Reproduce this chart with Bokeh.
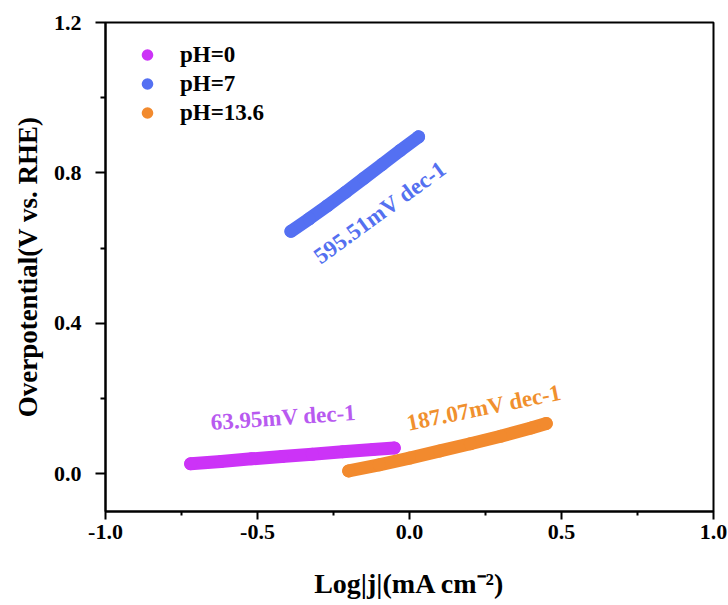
from bokeh.plotting import figure
from bokeh.models import Range1d, FixedTicker, NumeralTickFormatter, Legend, LegendItem, Label
from bokeh.embed import file_html
from bokeh.resources import INLINE

# ---- data ----
ph0_x = [-0.72, -0.62, -0.52, -0.42, -0.32, -0.22, -0.12, -0.05]
ph0_y = [0.027, 0.033, 0.040, 0.046, 0.052, 0.059, 0.065, 0.069]

ph7_x = [-0.39, -0.33, -0.27, -0.21, -0.15, -0.09, -0.03, 0.03]
ph7_y = [0.645, 0.678, 0.713, 0.749, 0.786, 0.823, 0.860, 0.896]

ph136_x = [-0.20, -0.10, 0.00, 0.10, 0.20, 0.30, 0.40, 0.45]
ph136_y = [0.008, 0.024, 0.042, 0.061, 0.080, 0.100, 0.122, 0.134]

series_labels = ["pH=0", "pH=7", "pH=13.6"]
slope_labels = ["63.95mV dec-1", "595.51mV dec-1", "187.07mV dec-1"]
x_title = "Log|j|(mA cm\u207b\u00b2)"
y_title = "Overpotential(V vs. RHE)"
x_ticks = [-1.0, -0.5, 0.0, 0.5, 1.0]
x_minor = [-0.75, -0.25, 0.25, 0.75]
y_ticks = [0.0, 0.4, 0.8, 1.2]
y_minor = [-0.2, 0.2, 0.6, 1.0]

line_colors = ["#CC33F7", "#5470F2", "#F28A2E"]
text_colors = ["#B85AF0", "#5470F0", "#F0902E"]

FONT = "Liberation Serif"

p = figure(width=728, height=605, x_range=Range1d(-1.0, 1.0), y_range=Range1d(-0.1, 1.2),
           output_backend="svg", toolbar_location=None,
           min_border_left=105, min_border_right=15, min_border_top=22, min_border_bottom=94)

p.xgrid.visible = False
p.ygrid.visible = False
p.outline_line_color = "black"
p.outline_line_width = 2
p.outline_line_alpha = 1.0
p.background_fill_color = "white"
p.border_fill_color = "white"

series = [(ph0_x, ph0_y), (ph7_x, ph7_y), (ph136_x, ph136_y)]
scatters = []
for (xs, ys), c in zip(series, line_colors):
    p.line(xs, ys, line_width=13, line_color=c, line_cap="round", line_join="round")
    s = p.scatter(xs, ys, size=13, fill_color=c, line_color=c, line_width=0)
    scatters.append(s)

legend = Legend(items=[LegendItem(label=l, renderers=[r]) for l, r in zip(series_labels, scatters)],
                location="top_left", margin=18, padding=0, spacing=0,
                glyph_width=48, glyph_height=29, label_height=29, label_standoff=9,
                border_line_alpha=0, background_fill_alpha=0,
                label_text_font=FONT, label_text_font_style="bold", label_text_font_size="23px",
                label_text_color="black")
p.add_layout(legend)

# slope annotations
ann_x = [-0.415, -0.097, 0.245]
ann_y = [0.150, 0.695, 0.176]
ann_angle = [4.0, 36.0, 11.5]
for t, xx, yy, a, c in zip(slope_labels, ann_x, ann_y, ann_angle, text_colors):
    p.add_layout(Label(x=xx, y=yy, text=t, angle=a, angle_units="deg",
                       text_align="center", text_baseline="middle",
                       text_font=FONT, text_font_style="bold", text_font_size="23px",
                       text_color=c))

# axes
for ax in (p.xaxis[0], p.yaxis[0]):
    ax.axis_line_width = 2
    ax.axis_line_color = "black"
    ax.major_tick_line_width = 2
    ax.minor_tick_line_width = 2
    ax.major_tick_line_color = "black"
    ax.minor_tick_line_color = "black"
    ax.major_tick_in = 0
    ax.minor_tick_in = 0
    ax.major_label_text_font = FONT
    ax.major_label_text_font_style = "bold"
    ax.major_label_text_font_size = "22px"
    ax.major_label_text_color = "black"
    ax.axis_label_text_font = FONT
    ax.axis_label_text_font_style = "bold"
    ax.axis_label_text_font_size = "28px"
    ax.axis_label_text_color = "black"
    ax.formatter = NumeralTickFormatter(format="0.0")

p.xaxis.ticker = FixedTicker(ticks=x_ticks, minor_ticks=x_minor)
p.yaxis.ticker = FixedTicker(ticks=y_ticks, minor_ticks=y_minor)
p.xaxis.major_tick_out = 8
p.xaxis.minor_tick_out = 4
p.yaxis.major_tick_out = 10
p.yaxis.minor_tick_out = 5
p.xaxis.major_label_standoff = 5
p.yaxis.major_label_standoff = 14
p.xaxis.axis_label = x_title
p.yaxis.axis_label = y_title
p.xaxis.axis_label_standoff = 26
p.yaxis.axis_label_standoff = 8
p.yaxis.axis_label_text_font_size = "27px"

open("out.html", "w").write(file_html(p, INLINE))
